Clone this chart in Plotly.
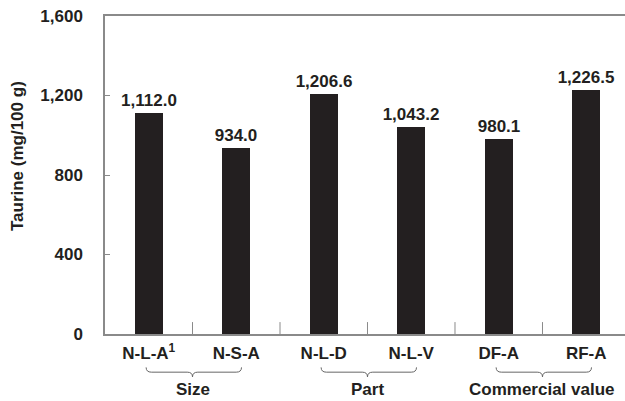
import plotly.graph_objects as go

categories = ["N-L-A<sup>1</sup>", "N-S-A", "N-L-D", "N-L-V", "DF-A", "RF-A"]
taurine = [1112.0, 934.0, 1206.6, 1043.2, 980.1, 1226.5]
groups = ["Size", "Part", "Commercial value"]
group_members = [(0, 1), (2, 3), (4, 5)]
y_ticks = [0, 400, 800, 1200, 1600]

FONT = "Liberation Sans, Arial, sans-serif"
DARK = "#231f20"
AXIS = "#8a8a8a"

fig = go.Figure()
fig.add_trace(go.Bar(
    x=list(range(len(categories))),
    y=taurine,
    width=0.32,
    marker=dict(color=DARK, line=dict(width=0)),
    texttemplate="<b>%{y:,.1f}</b>",
    textposition="outside",
    constraintext="none",
    cliponaxis=False,
    textfont=dict(family=FONT, size=17, color=DARK),
))

shapes = []
annotations = []
for name, (a, b) in zip(groups, group_members):
    x0 = a - 0.03
    x1 = b + 0.06
    xm = (a + b) / 2
    yt = -0.105
    yb = -0.135
    ym = (yt + yb) / 2
    path = (f"M {x0},{yt} Q {x0},{ym} {x0+0.06},{ym} "
            f"L {xm-0.06},{ym} Q {xm},{ym} {xm},{yb} "
            f"Q {xm},{ym} {xm+0.06},{ym} "
            f"L {x1-0.06},{ym} Q {x1},{ym} {x1},{yt}")
    shapes.append(dict(type="path", xref="x", yref="paper", path=path,
                       line=dict(color="#666666", width=1)))
    annotations.append(dict(x=xm, y=-0.175, xref="x", yref="paper",
                            text=f"<b>{name}</b>", showarrow=False, yanchor="middle",
                            font=dict(family=FONT, size=17, color=DARK)))

annotations.append(dict(x=-0.167, y=0.56, xref="paper", yref="paper",
                        text="<b>Taurine (mg/100 g)</b>", textangle=-90,
                        showarrow=False, xanchor="center", yanchor="middle",
                        font=dict(family=FONT, size=17, color=DARK)))

# inward ticks at category boundaries on the x axis
for bnd in [0.5, 1.5, 2.5, 3.5, 4.5]:
    shapes.append(dict(type="line", xref="x", yref="y", x0=bnd, x1=bnd, y0=0, y1=60,
                       line=dict(color=AXIS, width=1)))

fig.update_layout(
    width=625, height=401,
    margin=dict(l=105, r=0, t=16, b=67, autoexpand=False),
    plot_bgcolor="white", paper_bgcolor="white",
    showlegend=False,
    bargap=0,
    shapes=shapes,
    annotations=annotations,
    xaxis=dict(
        range=[-0.5, 5.443],
        tickmode="array",
        tickvals=list(range(len(categories))),
        ticktext=[f"<b>{c}</b>" for c in categories],
        showline=True, linecolor=AXIS, linewidth=1.5, mirror=True,
        ticks="", showgrid=False, zeroline=False, automargin=False,
        ticklabelstandoff=3,
        tickfont=dict(family=FONT, size=17, color=DARK),
    ),
    yaxis=dict(
        range=[0, 1600],
        tickmode="array",
        tickvals=y_ticks,
        ticktext=[f"<b>{v:,}</b>" for v in y_ticks],
        showline=True, linecolor=AXIS, linewidth=1.5,
        ticks="inside", ticklen=5, tickcolor=AXIS,
        showgrid=False, zeroline=False, automargin=False,
        ticklabelstandoff=17,
        tickfont=dict(family=FONT, size=17, color=DARK),
    ),
    font=dict(family=FONT, size=17, color=DARK),
)

fig.write_html(
    "out.html",
    config={"displayModeBar": False},
    post_script="document.body.style.margin='0';document.body.style.overflow='hidden';",
)
